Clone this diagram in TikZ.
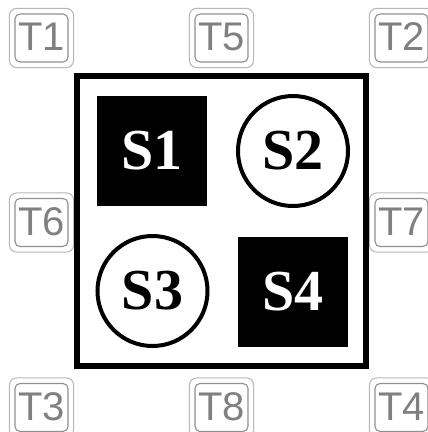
\documentclass[tikz,border=0pt]{standalone}
\usepackage{fontspec}
\setmainfont{Liberation Serif}
\newfontfamily\keyfont{Liberation Sans}
\definecolor{keyout}{HTML}{B8B8B8}
\definecolor{keyin}{HTML}{909090}
\definecolor{keytext}{HTML}{808080}
\begin{document}
\begin{tikzpicture}[x=1pt,y=-1pt,
  keycap/.style={draw=keyin, line width=1.1pt, rounded corners=5pt, minimum width=53pt, minimum height=48pt, inner sep=0pt,
    text=keytext, font=\keyfont\fontsize{40}{40}\selectfont},
  keyouter/.style={draw=keyout, line width=1pt, rounded corners=7pt},
  board/.style={draw=black, line width=6pt, minimum width=289pt, minimum height=290pt, inner sep=0pt},
  sqpiece/.style={fill=black, text=white, minimum size=110pt, inner sep=0pt, font=\bfseries\fontsize{58}{58}\selectfont},
  circpiece/.style={draw=black, circle, line width=4pt, fill=white, text=black, minimum size=110pt, inner sep=0pt, font=\bfseries\fontsize{58}{58}\selectfont}
]
\useasboundingbox (0,0) rectangle (428,432);
\fill[white] (0,0) rectangle (428,432);

% keycaps
\foreach \n/\x/\y in {T1/41.5/38, T5/221.5/38, T2/401.5/38,
                      T6/41.5/222.5, T7/401.5/222.5,
                      T3/41.5/407.5, T8/221.5/407.5, T4/401.5/407.5}{
  \node[keycap] (\n) at (\x,\y) {\raisebox{2pt}{\n}};
  \draw[keyouter] ([shift={(-5pt,5pt)}]\n.north west) rectangle ([shift={(5pt,-5pt)}]\n.south east);
}

% board
\node[board] (board) at (221.5,221) {};

% pieces
\node[sqpiece] (S1) at (152,150.5) {S1};
\node[circpiece] (S2) at (293,151) {S2};
\node[circpiece] (S3) at (152.5,291) {S3};
\node[sqpiece] (S4) at (293,292) {S4};
\end{tikzpicture}
\end{document}
